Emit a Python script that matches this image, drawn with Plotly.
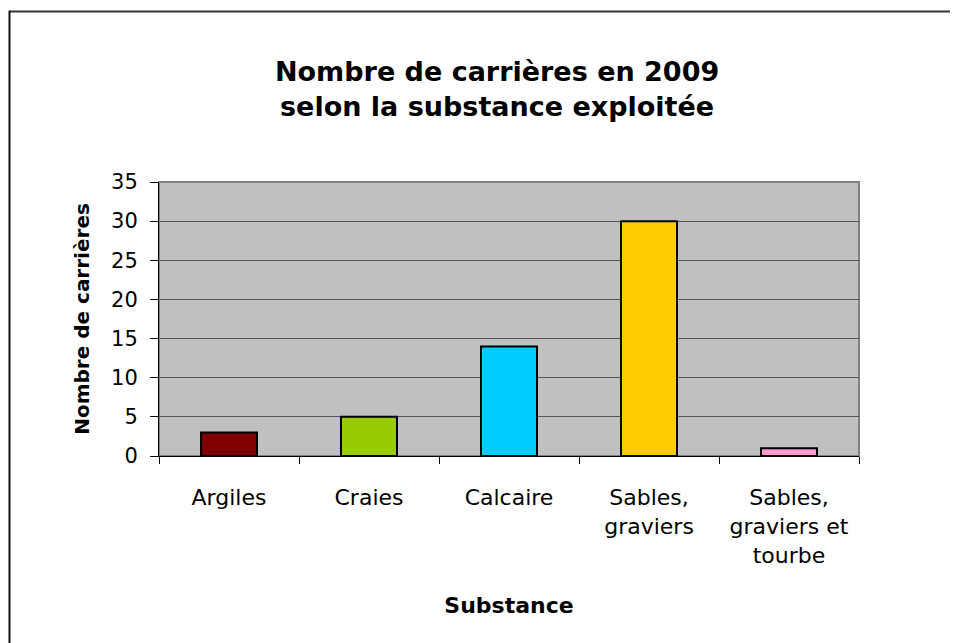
import plotly.graph_objects as go

# Données
substances = ["Argiles", "Craies", "Calcaire", "Sables,<br>graviers", "Sables,<br>graviers et<br>tourbe"]
nb_carrieres = [3, 5, 14, 30, 1]
couleurs = ["#800000", "#99CC00", "#00CCFF", "#FFCC00", "#FF99CC"]

POLICE = "DejaVu Sans, Arial, sans-serif"

fig = go.Figure()

fig.add_trace(go.Bar(
    x=substances,
    y=nb_carrieres,
    width=0.4,
    marker=dict(color=couleurs, line=dict(color="black", width=2)),
    showlegend=False,
    hoverinfo="x+y"
))

# Cadre de la zone de traçage (haut et droite en gris)
fig.add_shape(type="rect", xref="paper", yref="paper", x0=0, x1=1, y0=0, y1=1,
              line=dict(color="#808080", width=2), layer="below")

# Bordure extérieure du graphique (haut et gauche visibles)
fig.add_shape(type="line", xref="paper", yref="paper", x0=-0.2143, x1=1.2, y0=1.6223, y1=1.6223,
              line=dict(color="#333333", width=2))
fig.add_shape(type="line", xref="paper", yref="paper", x0=-0.2136, x1=-0.2136, y0=1.625, y1=-0.75,
              line=dict(color="#111111", width=2))

fig.update_layout(
    width=958,
    height=643,
    margin=dict(l=151, r=107, t=174, b=195),
    paper_bgcolor="white",
    plot_bgcolor="#C0C0C0",
    font=dict(family=POLICE, size=22, color="black"),
    title=dict(
        text="<b>Nombre de carrières en 2009<br>selon la substance exploitée</b>",
        font=dict(family=POLICE, size=27, color="black"),
        x=0.483, xref="paper", xanchor="center",
        y=1 - 72.5 / 643, yref="container", yanchor="middle"
    ),
    bargap=0.6
)

fig.update_xaxes(
    title=dict(text="<b>Substance</b>", font=dict(size=22), standoff=31),
    showline=True, linecolor="black", linewidth=1,
    ticks="outside", tickson="boundaries", ticklen=7, tickcolor="black",
    ticklabelstandoff=22,
    showgrid=False
)

fig.update_yaxes(
    title=dict(text="<b>Nombre de carrières</b>", font=dict(size=20), standoff=16),
    range=[0, 35], dtick=5,
    tickfont=dict(size=21),
    showline=True, linecolor="black", linewidth=1,
    ticks="outside", ticklen=8, tickcolor="black",
    ticklabelstandoff=8,
    showgrid=True, gridcolor="#555555", gridwidth=1,
    zeroline=False
)

fig.write_html("out.html")
